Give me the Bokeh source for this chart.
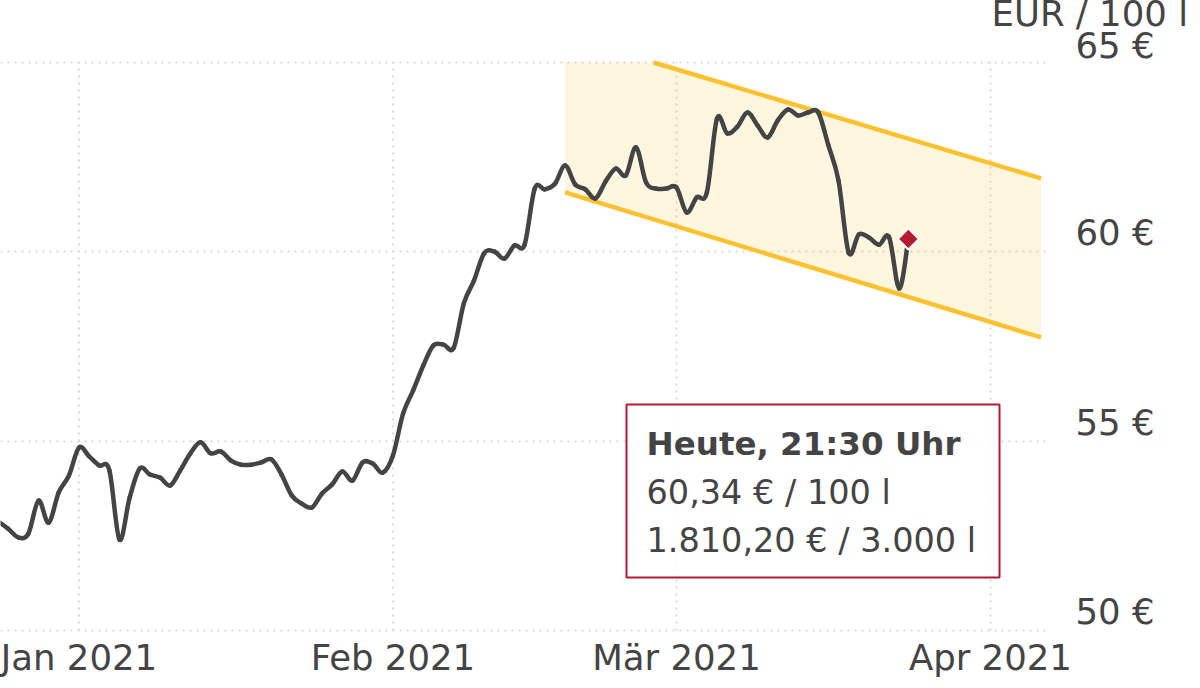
import math
import pandas as pd
from bokeh.plotting import figure
from bokeh.models import Range1d, FixedTicker, Title
from bokeh.core.properties import value
from bokeh.embed import file_html
from bokeh.resources import INLINE

# ---------------- data ----------------
price_start = "2020-12-24"          # first daily value
prices = [
    52.88, 52.69, 52.46, 52.56, 53.43, 52.85, 53.65, 54.09,          # Dec 24 - Dec 31
    54.83, 54.60, 54.36, 54.23, 52.40, 53.51, 54.28, 54.12, 54.04, 53.83,  # Jan 1-10
    54.23, 54.68, 54.97, 54.68, 54.73, 54.49, 54.38, 54.38, 54.44, 54.52,  # Jan 11-20
    54.12, 53.57, 53.35, 53.25, 53.62, 53.86, 54.20, 53.96, 54.44, 54.41,  # Jan 21-30
    54.17,                                                            # Jan 31
    54.62, 55.73, 56.34, 57.00, 57.53, 57.55, 57.47, 58.64, 59.24, 59.96,  # Feb 1-10
    60.01, 59.82, 60.17, 60.19, 61.67, 61.65, 61.80, 62.28, 61.78, 61.65,  # Feb 11-20
    61.41, 61.86, 62.20, 62.02, 62.76, 61.83, 61.67, 61.67,          # Feb 21-28
    61.70, 61.04, 61.44, 61.57, 63.52, 63.13, 63.30, 63.68, 63.34, 63.02,  # Mar 1-10
    63.47, 63.76, 63.60, 63.68, 63.68, 62.81, 61.88, 59.98, 60.46, 60.38,  # Mar 11-20
    60.19, 60.38, 59.03,                                              # Mar 21-23
]
last_time = "2021-03-23 21:30"
last_price = 60.34

channel_dates = ["2021-02-18", "2021-04-06"]
channel_upper = [65.70, 61.94]
channel_lower = [61.57, 57.74]

y_ticks = [50, 55, 60, 65]
y_tick_labels = ["50 €", "55 €", "60 €", "65 €"]
x_ticks = ["2021-01-01", "2021-02-01", "2021-03-01", "2021-04-01"]
x_tick_labels = ["Jan 2021", "Feb 2021", "Mär 2021", "Apr 2021"]
unit_label = "EUR / 100 l"
info_lines = ["Heute, 21:30 Uhr", "60,34 € / 100 l", "1.810,20 € / 3.000 l"]

# ---------------- helpers / layout ----------------
EPOCH = pd.Timestamp("1970-01-01")


def ms(s):
    return (pd.Timestamp(s) - EPOCH) / pd.Timedelta(milliseconds=1)


DAY_MS = 86400000.0
JAN1 = ms(x_ticks[0])
JAN1_PX, DAY_PX = 78.5, 10.127        # page x of first x tick, px per day
TOP_PX, EUR_PX = 62.0, 37.87          # page y of top y tick, px per EUR
Y_TOP = y_ticks[-1]
FRAME_L, FRAME_R, FRAME_T, FRAME_B = 0, 1050, 44, 632
W, H = 1200, 688


def px_x(px):
    return JAN1 + (px - JAN1_PX) / DAY_PX * DAY_MS


def px_y(py):
    return Y_TOP - (py - TOP_PX) / EUR_PX


FONT = "DejaVu Sans"
TXT = "#444444"
GRID = "#d9d9d9"
GOLD = "#fcc12f"
RED = "#b31b34"

price_x = [ms(d) for d in pd.date_range(price_start, periods=len(prices), freq="D")]
price_x.append(ms(last_time))
price_y = prices + [last_price]

p = figure(
    width=W, height=H,
    x_axis_type="datetime", y_axis_location="right",
    x_range=Range1d(px_x(FRAME_L), px_x(FRAME_R)),
    y_range=Range1d(px_y(FRAME_B), px_y(FRAME_T)),
    output_backend="svg", toolbar_location=None, title=None,
    min_border=0, min_border_left=FRAME_L, min_border_right=W - FRAME_R,
    min_border_top=FRAME_T, min_border_bottom=H - FRAME_B,
)
p.outline_line_color = None
p.background_fill_color = "white"

# unit label above the value axis (a trailing empty line lets it sit higher)
p.add_layout(Title(text=unit_label + "\n", align="left", offset=991, standoff=-64,
                   vertical_align="top", text_font=FONT, text_font_size="35.5px",
                   text_font_style="normal", text_color=TXT), "above")

# grids
p.xgrid.visible = False
p.ygrid.ticker = FixedTicker(ticks=y_ticks)
p.ygrid.grid_line_color = GRID
p.ygrid.grid_line_dash = "2 5"
p.ygrid.grid_line_width = 2
xt_ms = [ms(t) for t in x_ticks]
p.segment(x0=xt_ms, y0=[y_ticks[0]] * len(xt_ms), x1=xt_ms, y1=[Y_TOP] * len(xt_ms),
          line_color=GRID, line_dash="2 5", line_width=2, level="underlay")

# axes
for ax in (p.xaxis[0], p.yaxis[0]):
    ax.axis_line_color = None
    ax.major_tick_line_color = None
    ax.minor_tick_line_color = None
    ax.major_tick_out = 0
    ax.major_tick_in = 0
    ax.minor_tick_out = 0
    ax.major_label_text_font = FONT
    ax.major_label_text_font_size = "35.5px"
    ax.major_label_text_color = TXT

p.xaxis.ticker = FixedTicker(ticks=xt_ms)
p.xaxis.major_label_overrides = {t: lab for t, lab in zip(xt_ms, x_tick_labels)}
p.xaxis.major_label_standoff = 4

label_shift = [0.5, 0.5, 0.5, 0.44]
yt_pos = [v + s for v, s in zip(y_ticks, label_shift)]
p.yaxis.ticker = FixedTicker(ticks=yt_pos)
p.yaxis.major_label_overrides = {t: lab for t, lab in zip(yt_pos, y_tick_labels)}
p.yaxis.major_label_standoff = 25

# trend channel
c_ms = [ms(d) for d in channel_dates]
slope_u = (channel_upper[1] - channel_upper[0]) / (c_ms[1] - c_ms[0])
slope_l = (channel_lower[1] - channel_lower[0]) / (c_ms[1] - c_ms[0])
x_cross = c_ms[0] + (Y_TOP - channel_upper[0]) / slope_u
l_cross = channel_lower[0] + slope_l * (x_cross - c_ms[0])
p.varea(x=[c_ms[0], x_cross, c_ms[1]],
        y1=[channel_lower[0], l_cross, channel_lower[1]],
        y2=[min(channel_upper[0], Y_TOP), Y_TOP, channel_upper[1]],
        fill_color="#fbbd1e", fill_alpha=0.14)
p.line([x_cross, c_ms[1]], [Y_TOP, channel_upper[1]], line_color=GOLD, line_width=4.5)
p.line(c_ms, channel_lower, line_color=GOLD, line_width=4.5)

# price line, drawn as a smooth curve through the daily values (cubic segments)
n = len(price_x)
bx0, by0, bx1, by1, bcx0, bcy0, bcx1, bcy1 = ([] for _ in range(8))
for i in range(n - 1):
    a = max(i - 1, 0)
    b = min(i + 2, n - 1)
    bx0.append(price_x[i]); by0.append(price_y[i])
    bx1.append(price_x[i + 1]); by1.append(price_y[i + 1])
    bcx0.append(price_x[i] + (price_x[i + 1] - price_x[a]) / 6)
    bcy0.append(price_y[i] + (price_y[i + 1] - price_y[a]) / 6)
    bcx1.append(price_x[i + 1] - (price_x[b] - price_x[i]) / 6)
    bcy1.append(price_y[i + 1] - (price_y[b] - price_y[i]) / 6)
p.bezier(x0=bx0, y0=by0, x1=bx1, y1=by1, cx0=bcx0, cy0=bcy0, cx1=bcx1, cy1=bcy1,
         line_color=TXT, line_width=4.5, line_cap="round")
p.scatter([ms(last_time)], [last_price], marker="square", angle=math.pi / 4, size=15,
          fill_color=RED, line_color="white", line_width=2)

# info box
p.quad(left=[px_x(626)], right=[px_x(999)], top=[px_y(404)], bottom=[px_y(577)],
       fill_color="white", fill_alpha=0.85, line_color=RED, line_width=2)
info_y = [px_y(443), px_y(491.5), px_y(540)]
p.text(x=[px_x(646)], y=[info_y[0]], text=[info_lines[0]], text_font=value(FONT),
       text_font_size="32.5px", text_font_style="bold", text_color=TXT,
       text_baseline="middle", text_align="left")
p.text(x=[px_x(646)] * 2, y=info_y[1:], text=info_lines[1:], text_font=value(FONT),
       text_font_size="33.5px", text_color=TXT, text_baseline="middle", text_align="left")

open("out.html", "w").write(file_html(p, INLINE))
